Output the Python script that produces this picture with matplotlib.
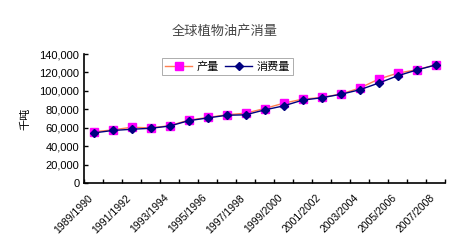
import matplotlib.pyplot as plt
import numpy as np
from matplotlib.ticker import FuncFormatter, MultipleLocator
from matplotlib.transforms import ScaledTranslation

plt.rcParams['font.family'] = ['Liberation Sans', 'Noto Sans CJK SC', 'DejaVu Sans']

years = ['1989/1990', '1990/1991', '1991/1992', '1992/1993', '1993/1994',
         '1994/1995', '1995/1996', '1996/1997', '1997/1998', '1998/1999',
         '1999/2000', '2000/2001', '2001/2002', '2002/2003', '2003/2004',
         '2004/2005', '2005/2006', '2006/2007', '2007/2008']
production = [55500, 57600, 60500, 59800, 62200, 68200, 71100, 74000, 75800, 80800,
              86600, 91000, 92800, 96500, 102900, 112700, 119200, 122800, 128200]
consumption = [54300, 57000, 58300, 59400, 61800, 67600, 70600, 73500, 74000, 79300,
               83700, 89900, 92500, 96200, 101100, 108400, 116300, 122600, 128000]

fig = plt.figure(figsize=(4.5, 2.5), dpi=100)
ax = fig.add_axes([0.187, 0.268, 0.802, 0.516])

x = np.arange(len(years))
ax.plot(x, production, color='#ff7f50', lw=1.0, marker='s', ms=5.5,
        mfc='#ff00ff', mec='#ff00ff', label='产量', zorder=3)
ax.plot(x, consumption, color='#000080', lw=1.0, marker='D', ms=4,
        mfc='#000080', mec='#000080', label='消费量', zorder=4)

ax.set_xlim(-0.5, len(years) - 0.5)
ax.set_ylim(0, 140000)
ax.yaxis.set_major_locator(MultipleLocator(20000))
ax.yaxis.set_major_formatter(FuncFormatter(lambda v, p: f'{int(v):,}'))
ax.tick_params(axis='y', direction='in', length=3, labelsize=8, width=1)

ax.set_xticks(np.arange(-0.5, len(years), 1), minor=False)
ax.set_xticklabels([])
ax.tick_params(axis='x', which='major', direction='in', length=3, width=1)
ax.set_xticks(x[::2], minor=True)
ax.set_xticklabels(years[::2], minor=True, rotation=45, ha='right',
                   rotation_mode='anchor', fontsize=7.5)
ax.tick_params(axis='x', which='minor', length=0, pad=7)
shift = ScaledTranslation(-6 / 100, 0, fig.dpi_scale_trans)
for lab in ax.get_xticklabels(minor=True):
    lab.set_transform(lab.get_transform() + shift)

for s in ['top', 'right']:
    ax.spines[s].set_visible(False)
for s in ['left', 'bottom']:
    ax.spines[s].set_linewidth(1.2)

ax.set_ylabel('千吨', fontsize=8, family=['Noto Sans CJK SC'], labelpad=6)

leg = ax.legend(loc='upper left', bbox_to_anchor=(0.2, 1.01), ncol=2,
                prop={'family': 'Noto Sans CJK SC', 'size': 8},
                frameon=True, fancybox=False, handlelength=2.4,
                columnspacing=0.6, handletextpad=0.4, borderpad=0.3)
leg.get_frame().set_edgecolor('#888888')
leg.get_frame().set_linewidth(0.6)

fig.text(0.5, 0.875, '全球植物油产消量', ha='center', va='center', fontsize=9.5,
         color='#444444', family=['Noto Sans CJK SC'])

fig.savefig('out.png', dpi=100)
